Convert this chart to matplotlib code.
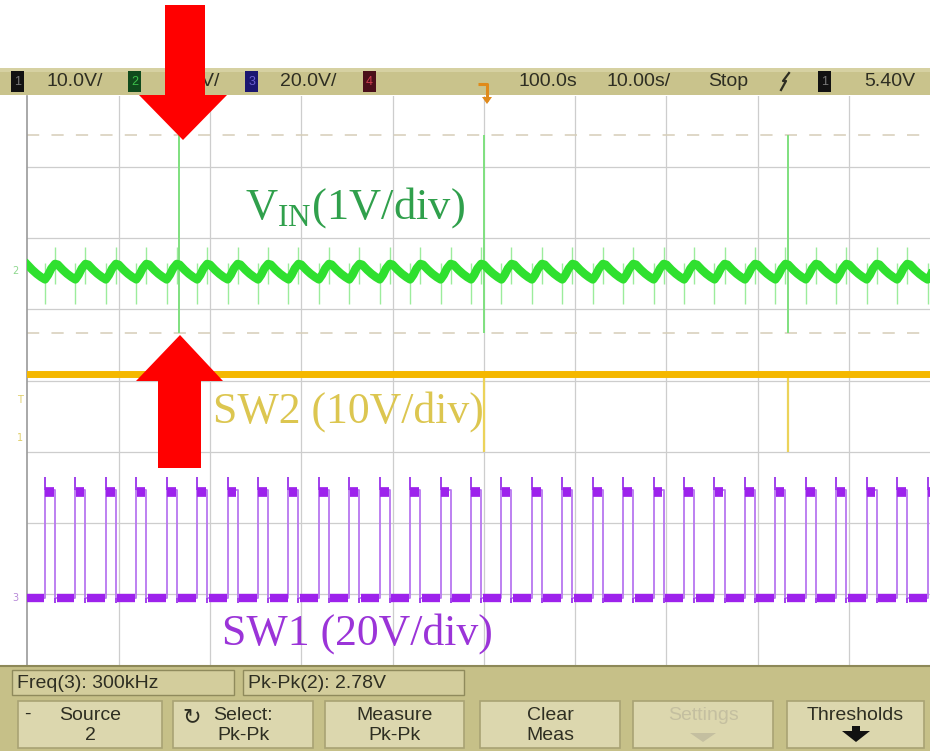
import numpy as np
import matplotlib
matplotlib.use("Agg")
import matplotlib.pyplot as plt
from matplotlib.patches import Rectangle, Polygon

plt.rcParams["mathtext.fontset"] = "custom"
plt.rcParams["mathtext.rm"] = "Liberation Serif"

# ---- scope settings (on-screen readouts) ----
time_per_div_us = 10.0
n_hdiv, n_vdiv = 10, 8
freq_khz = 300.0            # Freq(3)
pkpk_vin = 2.78             # Pk-Pk(2), V

# ---- channel scales and screen positions ----
vin_scale, sw2_scale, sw1_scale = 1.0, 10.0, 20.0   # V/div
vin_pos_div = 5.53          # VIN trace centre
sw2_gnd_div = 3.19          # channel 1 ground marker
sw1_gnd_div = 0.94          # channel 3 ground marker
trig_level_v = 5.40

# ---- SW1 switch node ----
sw1_ref_rise_us = 48.6      # rising edge just before the trigger point
sw1_duty = 0.33
sw1_high_v = 30.4
sw1_low_v = 0.0
sw1_overshoot_v = 3.6
sw1_undershoot_v = -1.3

# ---- VIN ripple over one switching period (phase from SW1 rising edge) ----
vin_ripple_phase = [0.0, 0.10, 0.20, 0.33, 0.42, 0.55, 0.70, 0.85, 1.0]
vin_ripple_v = [-0.11, -0.05, 0.04, 0.11, 0.10, 0.04, -0.02, -0.07, -0.11]
vin_spike_rise_v = (-0.45, 0.12)    # (min, max) at SW1 rising edges
vin_spike_fall_v = (-0.18, 0.35)    # (min, max) at SW1 falling edges
vin_big_spike_max_v = 1.92
big_spike_cycles = [-10, 0, 10]     # SW2 events, relative to the reference cycle
big_spike_delay_us = 0.3

# ---- SW2 ----
sw2_level_v = 9.0
sw2_spike_min_v = -1.9

# ---------------------------------------------------------------------------
W, H = 930, 751
fig = plt.figure(figsize=(W / 100, H / 100), dpi=100)
fig.patch.set_facecolor("white")

L, T, B = 27.3, 96, 665
div_px = 91.3
ax = fig.add_axes([L / W, (H - B) / H, n_hdiv * div_px / W, (B - T) / H])
t_span = time_per_div_us * n_hdiv
ax.set_xlim(0, t_span)
ax.set_ylim(0, n_vdiv)
ax.set_facecolor("white")
for s in ("top", "right", "bottom"):
    ax.spines[s].set_visible(False)
ax.spines["left"].set_color("#9a9a9a")
ax.spines["left"].set_linewidth(1.2)
ax.set_xticks([])
ax.set_yticks([])
for i in range(1, n_hdiv):
    ax.axvline(i * time_per_div_us, color="#cdcdcd", lw=0.9, zorder=0)
for j in range(1, n_vdiv):
    ax.axhline(j, color="#cdcdcd", lw=0.9, zorder=0)


def to_div(v, gnd, scale):
    return gnd + np.asarray(v, dtype=float) / scale


period = 1000.0 / freq_khz
ks = np.arange(-16, 17)
rise = sw1_ref_rise_us + ks * period
fall = rise + sw1_duty * period

# Pk-Pk cursor lines for VIN
vin_max = vin_pos_div + vin_big_spike_max_v / vin_scale
vin_min = vin_pos_div + (vin_big_spike_max_v - pkpk_vin) / vin_scale
for yv in (vin_max, vin_min):
    ax.axhline(yv, color="#d6cdb8", lw=1.1, ls=(0, (8, 8)), zorder=1)

# ---- VIN (channel 2) ----
t = np.linspace(0, t_span, 8000)
phase = ((t - sw1_ref_rise_us) / period) % 1.0
vin = np.interp(phase, vin_ripple_phase, vin_ripple_v)
vin_col = "#2fe02f"
ax.vlines(rise, vin_pos_div + vin_spike_rise_v[0], vin_pos_div + vin_spike_rise_v[1],
          color="#9cec9c", lw=1.0, zorder=2)
ax.vlines(fall, vin_pos_div + vin_spike_fall_v[0], vin_pos_div + vin_spike_fall_v[1],
          color="#9cec9c", lw=1.0, zorder=2)
big_t = [sw1_ref_rise_us + (k + sw1_duty) * period + big_spike_delay_us
         for k in big_spike_cycles]
ax.vlines(big_t, vin_min, vin_max, color="#7fe07f", lw=1.4, zorder=2)
ax.plot(t, to_div(vin, vin_pos_div, vin_scale), color=vin_col, lw=6,
        solid_joinstyle="round", zorder=3)

# ---- SW2 (channel 1) ----
sw2_y = to_div(sw2_level_v, sw2_gnd_div, sw2_scale)
ax.vlines(big_t, to_div(sw2_spike_min_v, sw2_gnd_div, sw2_scale), sw2_y,
          color="#ecd35a", lw=1.6, zorder=2)
ax.axhline(sw2_y, color="#f5b800", lw=5, zorder=3)

# ---- SW1 (channel 3) ----
lo = float(to_div(sw1_low_v, sw1_gnd_div, sw1_scale))
hi = float(to_div(sw1_high_v, sw1_gnd_div, sw1_scale))
xs = np.column_stack([rise, rise, fall, fall]).ravel()
ys = np.tile([lo, hi, hi, lo], len(ks))
ax.plot(xs, ys, color="#b876f0", lw=1.3, zorder=2)
ax.vlines(rise, hi, to_div(sw1_high_v + sw1_overshoot_v, sw1_gnd_div, sw1_scale),
          color="#a040ec", lw=1.4, zorder=2)
ax.vlines(fall, to_div(sw1_undershoot_v, sw1_gnd_div, sw1_scale), lo,
          color="#a040ec", lw=1.4, zorder=2)
sw1_col = "#9d22ec"
for r, f in zip(rise, fall):
    ax.plot([r + 0.01 * period, f - 0.04 * period], [hi - 0.03, hi - 0.03],
            color=sw1_col, lw=7, solid_capstyle="butt", zorder=3)
for f, r_next in zip(fall[:-1], rise[1:]):
    ax.plot([f + 0.05 * period, r_next - 0.03 * period], [lo, lo],
            color=sw1_col, lw=6, solid_capstyle="butt", zorder=3)

# ---------------------------------------------------------------------------
# Overlay in pixel coordinates: status bars, labels, arrows
ov = fig.add_axes([0, 0, 1, 1])
ov.set_xlim(0, W)
ov.set_ylim(H, 0)
ov.axis("off")
ov.patch.set_alpha(0)
ov.set_zorder(5)

ui_font = ["Liberation Sans", "DejaVu Sans"]
ui_col = "#2e2e22"
bar_col = "#c9c38c"

# top status bar
ov.add_patch(Rectangle((0, 68), W, 27, facecolor=bar_col, edgecolor="none"))
ov.add_patch(Rectangle((0, 68), W, 4, facecolor="#d6d1a2", edgecolor="none"))
for x0, fc in [(11, "#111111"), (128, "#0f4a1c"), (245, "#1b1670"), (363, "#4a0f1a"),
               (818, "#111111")]:
    ov.add_patch(Rectangle((x0, 71), 13, 21, facecolor=fc, edgecolor="none"))
for x0, s, c in [(17.5, "1", "#777777"), (134.5, "2", "#3bbf4a"),
                 (251.5, "3", "#6a5fd0"), (369.5, "4", "#d04050"),
                 (824.5, "1", "#777777")]:
    ov.text(x0, 82, s, color=c, fontsize=9, ha="center", va="center",
            family=ui_font)
for x0, s in [(46, "10.0V/"), (163, "1.00V/"), (280, "20.0V/"), (518, "100.0s"),
              (606, "10.00s/"), (708, "Stop"), (864, "5.40V")]:
    ov.text(x0, 82, s, color=ui_col, fontsize=14, ha="left", va="center",
            family=ui_font)
# trigger position marker
ov.plot([478, 487, 487], [84, 84, 101], color="#e08a1a", lw=2.2, solid_capstyle="butt")
ov.add_patch(Polygon([(482, 97), (492, 97), (487, 104)], closed=True,
                     facecolor="#e08a1a", edgecolor="none"))
# trigger slope symbol
ov.plot([781, 786, 783, 789], [90, 81, 81, 73], color=ui_col, lw=1.6)

# channel markers at the left edge
ov.text(15, 271, "2", color="#8ed88e", fontsize=7, ha="center", va="center")
ov.text(20, 400, "T", color="#e0cf6a", fontsize=7, ha="center", va="center")
ov.text(20, 438, "1", color="#e0cf6a", fontsize=7, ha="center", va="center")
ov.text(15, 598, "3", color="#b88ad8", fontsize=7, ha="center", va="center")

# trace labels
serif = ["Liberation Serif", "DejaVu Serif"]
ov.text(245, 219, r"V$_{\mathrm{IN}}$(1V/div)", color="#30a04c", fontsize=32,
        family=serif, ha="left", va="baseline")
ov.text(213, 423, "SW2 (10V/div)", color="#dcc650", fontsize=31.5,
        family=serif, ha="left", va="baseline")
ov.text(222, 645, "SW1 (20V/div)", color="#9b34d8", fontsize=31.5,
        family=serif, ha="left", va="baseline")

# red arrows marking the VIN spike
red = "#ff0000"
ov.add_patch(Polygon([(165, 5), (205, 5), (205, 95), (227, 95), (183, 140),
                      (139, 95), (165, 95)], closed=True, facecolor=red,
                     edgecolor="none", zorder=10))
ov.add_patch(Polygon([(180, 335), (223, 381), (201, 381), (201, 468), (158, 468),
                      (158, 381), (136, 381)], closed=True, facecolor=red,
                     edgecolor="none", zorder=10))

# bottom softkey / measurement bar
ov.add_patch(Rectangle((0, 665), W, H - 665, facecolor="#c6c088", edgecolor="none"))
ov.plot([0, W], [666, 666], color="#8d8858", lw=1.5)
for x0, x1, s in [(12, 234, "Freq(3): 300kHz"), (243, 464, "Pk-Pk(2): 2.78V")]:
    ov.add_patch(Rectangle((x0, 670), x1 - x0, 25, facecolor="#d3cd9c",
                           edgecolor="#8f8a5c", lw=1.0))
    ov.text(x0 + 5, 683, s, color=ui_col, fontsize=14, ha="left", va="center",
            family=ui_font)
buttons = [(18, 162, "Source", "2"), (173, 313, "Select:", "Pk-Pk"),
           (325, 464, "Measure", "Pk-Pk"), (480, 620, "Clear", "Meas"),
           (633, 773, "Settings", ""), (787, 924, "Thresholds", "")]
for x0, x1, l1, l2 in buttons:
    ov.add_patch(Rectangle((x0, 701), x1 - x0, 47, facecolor="#dcd7ae",
                           edgecolor="#a9a374", lw=1.2))
    cx = (x0 + x1) / 2
    col = "#c4bfa0" if l1 == "Settings" else ui_col
    ov.text(cx, 715, l1, color=col, fontsize=14, ha="center", va="center",
            family=ui_font)
    if l2:
        ov.text(cx, 736, l2, color=col, fontsize=14, ha="center", va="center",
                family=ui_font)
ov.text(27, 714, "-", color=ui_col, fontsize=14, ha="center", va="center",
        family=ui_font)
ov.text(192, 717, "\u21bb", color=ui_col, fontsize=16, ha="center", va="center")
ov.add_patch(Polygon([(690, 733), (716, 733), (703, 742)], closed=True,
                     facecolor="#c4bfa0", edgecolor="none"))
ov.add_patch(Polygon([(842, 731), (870, 731), (856, 742)], closed=True,
                     facecolor="#111111", edgecolor="none"))
ov.add_patch(Rectangle((852, 726), 8, 6, facecolor="#111111", edgecolor="none"))

fig.savefig("out.png", dpi=100, facecolor="white")
